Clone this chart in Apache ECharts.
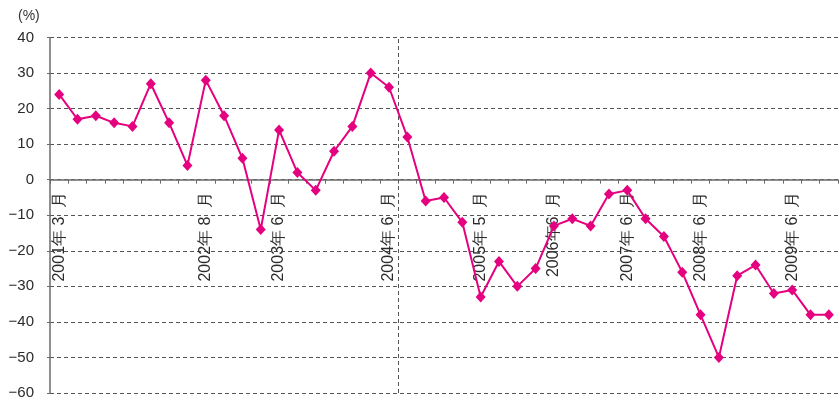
<!DOCTYPE html>
<html>
<head>
<meta charset="utf-8">
<script src="https://cdn.jsdelivr.net/npm/echarts@6/dist/echarts.min.js"></script>
<style>
  html, body { margin: 0; padding: 0; background: #fff; }
  #chart { width: 839px; height: 401px; }
</style>
</head>
<body>
<div id="chart"></div>
<script>
// Period index along the horizontal axis (one entry per observation)
const periods = Array.from({ length: 43 }, (_, i) => String(i + 1));

// Year-on-year change (%)
const values = [
  24, 17, 18, 16, 15, 27, 16, 4, 28, 18,
  6, -14, 14, 2, -3, 8, 15, 30, 26, 12,
  -6, -5, -12, -33, -23, -30, -25, -13, -11, -13,
  -4, -3, -11, -16, -26, -38, -50, -27, -24, -32,
  -31, -38, -38
];

// Dated tick labels shown on the horizontal axis
const labelIndex = [0, 8, 12, 18, 23, 27, 31, 35, 40];
const labelText = [
  '2001年 3  月', '2002年 8  月', '2003年 6  月', '2004年 6  月', '2005年 5  月',
  '2006年6  月', '2007年 6  月', '2008年 6  月', '2009年 6  月'
];

// Value-axis ticks
const yTicks = [-60, -50, -40, -30, -20, -10, 0, 10, 20, 30, 40];

// Period boundary where the dashed vertical divider is drawn
const dividerAt = 19;

const FONT = '"Liberation Sans", Arial, sans-serif';
const axisGrey = '#6b6b6b';
const gridGrey = '#555555';

const GRID_TOP = 37.5;
const GRID_BOTTOM = 8;
const CHART_H = 401;

// The period labels hang just below the zero line rather than the grid's
// bottom edge, so their margin is measured back up from the bottom edge.
const plotH = CHART_H - GRID_TOP - GRID_BOTTOM;
const yMin = yTicks[0];
const yMax = yTicks[yTicks.length - 1];
const zeroFromBottom = plotH * (0 - yMin) / (yMax - yMin);
const labelMargin = 12 - zeroFromBottom;

const chart = echarts.init(document.getElementById('chart'), null, { renderer: 'canvas' });

chart.setOption({
  animation: false,
  backgroundColor: '#ffffff',
  title: {
    text: '(%)',
    left: 13,
    top: 4,
    textStyle: { fontFamily: FONT, fontSize: 14, fontWeight: 'normal', color: '#333' }
  },
  grid: { left: 50, right: 1, top: GRID_TOP, bottom: GRID_BOTTOM, containLabel: false, outerBoundsMode: 'none' },
  xAxis: [{
    type: 'category',
    data: periods,
    boundaryGap: true,
    axisLine: { onZero: true, lineStyle: { color: axisGrey, width: 1.5 } },
    axisTick: { show: true, interval: 0, length: 4, lineStyle: { color: axisGrey, width: 1 } },
    axisLabel: {
      interval: 0,
      rotate: 90,
      margin: labelMargin,
      fontFamily: FONT,
      fontSize: 16,
      color: '#2b2b2b',
      formatter: (v, i) => {
        const k = labelIndex.indexOf(i);
        return k >= 0 ? labelText[k] : '';
      }
    },
    splitLine: { show: false }
  }, {
    // continuous twin of the period axis, used to place the divider on a boundary
    type: 'value',
    min: 0,
    max: periods.length,
    show: false,
    position: 'top'
  }],
  yAxis: {
    type: 'value',
    min: yMin,
    max: yMax,
    interval: 10,
    axisLine: { show: true, lineStyle: { color: axisGrey, width: 1.5 } },
    axisTick: { show: true, length: 3, lineStyle: { color: axisGrey } },
    axisLabel: {
      margin: 16,
      fontFamily: FONT,
      fontSize: 15,
      color: '#2b2b2b',
      formatter: (v) => (v < 0 ? '\u2212' + Math.abs(v) : String(v))
    },
    splitLine: { show: true, lineStyle: { color: gridGrey, type: [4, 3], width: 1 } }
  },
  series: [{
    type: 'line',
    data: values,
    symbol: 'diamond',
    symbolSize: [10, 11],
    showAllSymbol: true,
    lineStyle: { color: '#e5007f', width: 2 },
    itemStyle: { color: '#e5007f' },
    z: 5
  }, {
    type: 'line',
    xAxisIndex: 1,
    data: [],
    silent: true,
    markLine: {
      silent: true,
      symbol: 'none',
      label: { show: false },
      lineStyle: { color: gridGrey, type: [4, 3], width: 1 },
      data: [{ xAxis: dividerAt }]
    }
  }]
});
</script>
</body>
</html>
